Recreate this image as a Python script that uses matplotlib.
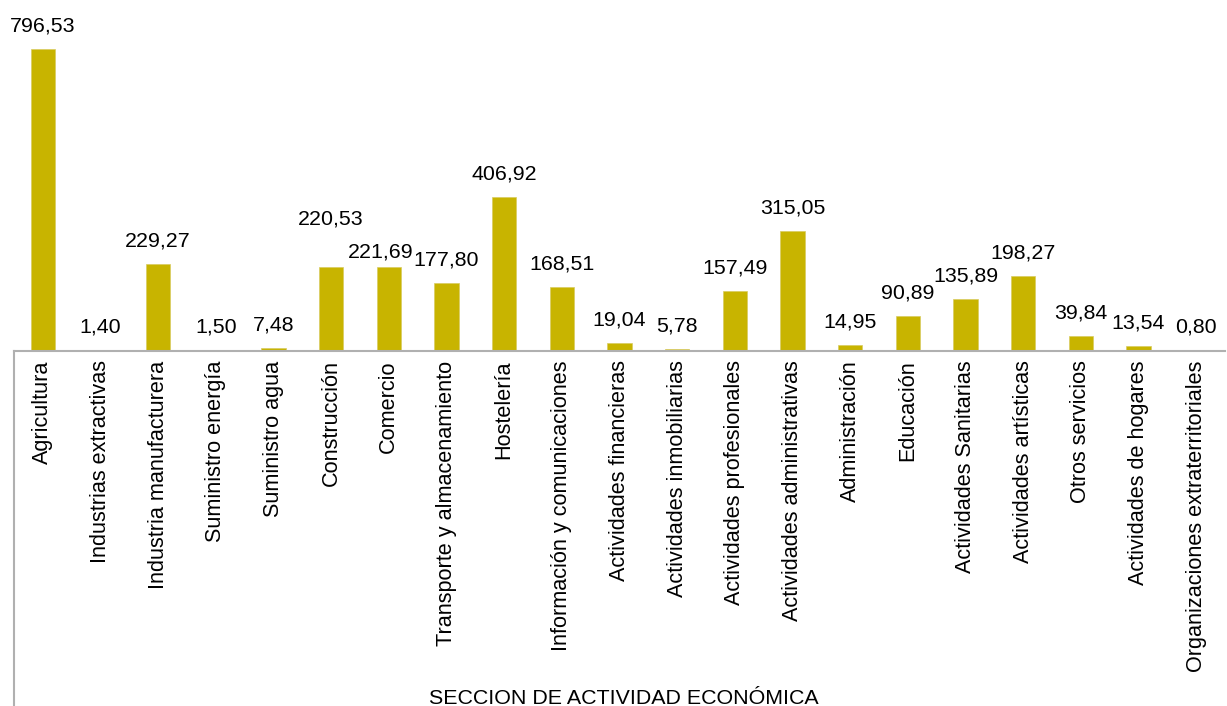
import matplotlib.pyplot as plt
from matplotlib.lines import Line2D

plt.rcParams['font.family'] = ['Liberation Sans', 'DejaVu Sans']

# sectors and values
sectores = ["Agricultura", "Industrias extractivas", "Industria manufacturera",
            "Suministro energía", "Suministro agua", "Construcción", "Comercio",
            "Transporte y almacenamiento", "Hostelería", "Información y comunicaciones",
            "Actividades financieras", "Actividades inmobiliarias", "Actividades profesionales",
            "Actividades administrativas", "Administración", "Educación",
            "Actividades Sanitarias", "Actividades artísticas", "Otros servicios",
            "Actividades de hogares", "Organizaciones extraterritoriales"]
valores = [796.53, 1.40, 229.27, 1.50, 7.48, 220.53, 221.69, 177.80, 406.92, 168.51,
           19.04, 5.78, 157.49, 315.05, 14.95, 90.89, 135.89, 198.27, 39.84, 13.54, 0.80]

W, H = 1227, 706
fig = plt.figure(figsize=(W / 100, H / 100), dpi=100)
base_y = 350.7
ax = fig.add_axes([14 / W, (H - base_y) / H, (1225 - 14) / W, base_y / H])

x = range(len(sectores))
ax.bar(x, valores, width=0.42, color="#C8B400", edgecolor="#D8CC60", linewidth=0.5)
ax.set_xlim(-0.5, len(sectores) - 0.5)
ax.set_ylim(0, base_y / 0.3788)

# label offsets in pixels (default 23 px above bar top)
shift = {5: (0, 48), 6: (-8, 15)}
for i, v in enumerate(valores):
    dx, dy = shift.get(i, (0, 23))
    ax.annotate(("%.2f" % v).replace(".", ","), (i, v), xytext=(dx * 0.72, dy * 0.72),
                textcoords="offset points", ha="center", va="center", fontsize=15.4)

ax.set_xticks(list(x))
ax.set_xticklabels(sectores, rotation=90, fontsize=15.6, va="top", ha="center")
ax.tick_params(axis="x", length=0, pad=7)
ax.set_yticks([])
for s in ["top", "right", "left"]:
    ax.spines[s].set_visible(False)
ax.spines["bottom"].set_color("#B0B0B0")
ax.spines["bottom"].set_linewidth(1.5)

# vertical line below the baseline on the left
fig.add_artist(Line2D([14 / W, 14 / W], [0, (H - base_y) / H], transform=fig.transFigure,
                      color="#B0B0B0", linewidth=1.5))

fig.text(624 / W, 1 - 698 / H, "SECCION DE ACTIVIDAD ECONÓMICA", ha="center", va="center", fontsize=15.4)

fig.savefig("out.png", dpi=100)
